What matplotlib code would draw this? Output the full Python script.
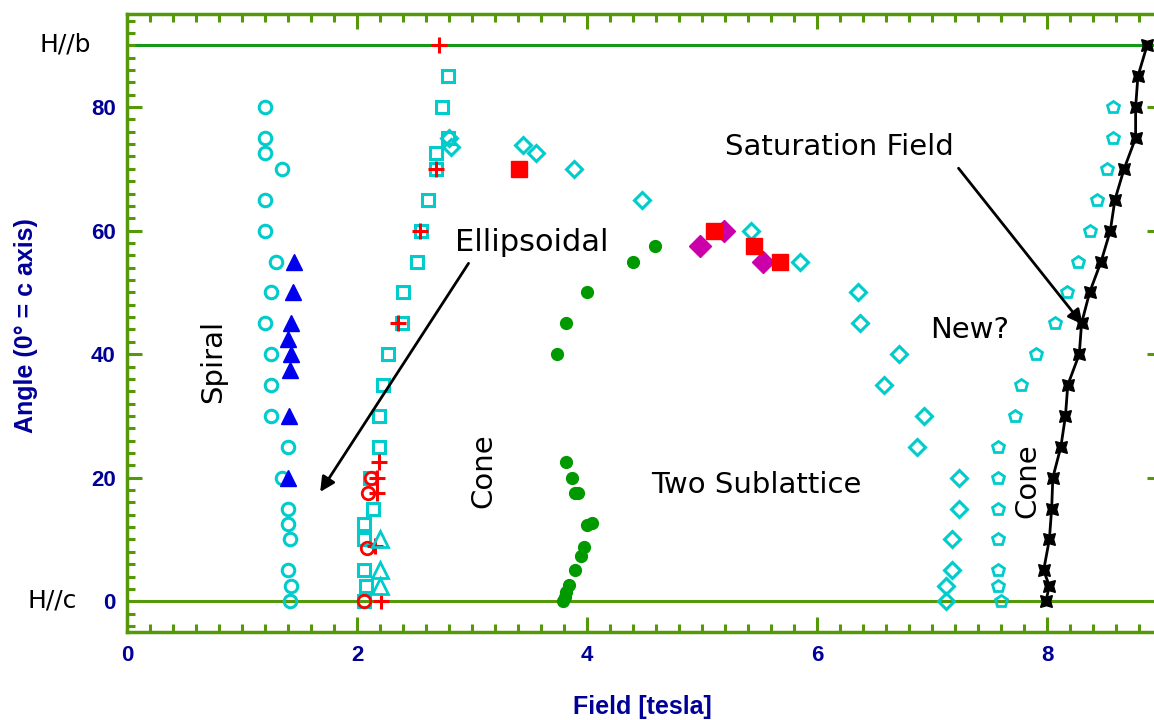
import matplotlib.pyplot as plt
import numpy as np
from matplotlib.ticker import MultipleLocator

# ---- data (field in tesla, angle in degrees) ----
circ_field = [1.2, 1.2, 1.2, 1.35, 1.2, 1.2, 1.3, 1.25, 1.2, 1.25, 1.25, 1.25,
              1.4, 1.35, 1.4, 1.4, 1.42, 1.4, 1.43, 1.42]
circ_angle = [80, 75, 72.5, 70, 65, 60, 55, 50, 45, 40, 35, 30,
              25, 20, 15, 12.5, 10, 5, 2.5, 0]

tri_field = [1.45, 1.44, 1.43, 1.40, 1.43, 1.42, 1.41, 1.40]
tri_angle = [55, 50, 45, 42.5, 40, 37.5, 30, 20]

sq_field = [2.79, 2.74, 2.79, 2.69, 2.69, 2.62, 2.56, 2.52, 2.40, 2.39,
            2.27, 2.23, 2.19, 2.19, 2.11, 2.14, 2.06, 2.06, 2.06, 2.08, 2.06]
sq_angle = [85, 80, 75, 72.5, 70, 65, 60, 55, 50, 45,
            40, 35, 30, 25, 20, 15, 12.5, 10, 5, 2.5, 0]

cross_field = [2.71, 2.69, 2.55, 2.36, 2.19, 2.17, 2.17, 2.16, 2.21]
cross_angle = [90, 70, 60, 45, 22.5, 20, 17.5, 9, 0]

rcirc_field = [2.12, 2.10, 2.09, 2.06]
rcirc_angle = [20, 17.5, 8.7, 0]

otri_field = [2.2, 2.2, 2.2]
otri_angle = [10, 5, 2.5]

dot_field = [3.74, 3.82, 4.0, 4.40, 4.59,
             3.82, 3.87, 3.90, 3.92, 4.0, 4.04, 3.97, 3.95, 3.90, 3.84, 3.82, 3.81, 3.79]
dot_angle = [40, 45, 50, 55, 57.5,
             22.5, 20, 17.6, 17.5, 12.3, 12.6, 8.8, 7.4, 5, 2.6, 1.5, 0.7, 0]

dia_field = [2.80, 2.82, 3.44, 3.56, 3.89, 4.48, 5.43, 5.85, 6.36, 6.37, 6.71,
             6.58, 6.93, 6.87, 7.23, 7.23, 7.17, 7.17, 7.12, 7.12]
dia_angle = [75, 73.5, 73.8, 72.6, 70, 65, 60, 55, 50, 45, 40,
             35, 30, 25, 20, 15, 10, 5, 2.4, 0]

mdia_field = [4.98, 5.19, 5.53]
mdia_angle = [57.5, 60, 55]

rsq_field = [3.41, 5.10, 5.45, 5.68]
rsq_angle = [70, 60, 57.5, 55]

pent_field = [7.60, 7.57, 7.57, 7.57, 7.57, 7.57, 7.57, 7.72, 7.77, 7.90,
              8.07, 8.17, 8.27, 8.37, 8.43, 8.52, 8.57, 8.57]
pent_angle = [0, 2.5, 5, 10, 15, 20, 25, 30, 35, 40,
              45, 50, 55, 60, 65, 70, 75, 80]

sat_field = [7.99, 8.02, 7.97, 8.02, 8.04, 8.05, 8.12, 8.16, 8.18, 8.28,
             8.30, 8.37, 8.47, 8.55, 8.59, 8.67, 8.77, 8.77, 8.79, 8.87]
sat_angle = [0, 2.5, 5, 10, 15, 20, 25, 30, 35, 40,
             45, 50, 55, 60, 65, 70, 75, 80, 85, 90]

x_ticks = [0, 2, 4, 6, 8]
y_ticks = [0, 20, 40, 60, 80]

cyan = '#00cccc'
axis_green = '#55990a'
navy = '#000099'

fig = plt.figure(figsize=(11.54, 7.2), dpi=100)
ax = fig.add_axes([0.110, 0.122, 0.897, 0.858])

ax.axhline(0, color=axis_green, lw=2.2, zorder=1)
ax.axhline(90, color='#16991a', lw=2.2, zorder=1)

ax.plot(circ_field, circ_angle, 'o', ls='none', mfc='none', mec=cyan, ms=9, mew=2.2)
ax.plot(tri_field, tri_angle, '^', ls='none', color='#0000ee', ms=12)
ax.plot(sq_field, sq_angle, 's', ls='none', mfc='none', mec=cyan, ms=8.5, mew=2.2)
ax.plot(rcirc_field, rcirc_angle, 'o', ls='none', mfc='none', mec='#ff0000', ms=9, mew=2)
ax.plot(cross_field, cross_angle, '+', ls='none', color='#ff0000', ms=12, mew=2.2)
ax.plot(otri_field, otri_angle, '^', ls='none', mfc='none', mec=cyan, ms=11, mew=2)
ax.plot(dot_field, dot_angle, 'o', ls='none', color='#009900', ms=8.5)
ax.plot(dia_field, dia_angle, 'D', ls='none', mfc='none', mec=cyan, ms=8.5, mew=2.2)
ax.plot(mdia_field, mdia_angle, 'D', ls='none', color='#cc00aa', ms=11)
ax.plot(rsq_field, rsq_angle, 's', ls='none', color='#ff0000', ms=11)
ax.plot(pent_field, pent_angle, 'p', ls='none', mfc='none', mec=cyan, ms=9, mew=2)
ax.plot(sat_field, sat_angle, '-', color='black', lw=2,
        marker=(4, 1, 45), ms=12, mfc='black', mec='black')

# region labels
txt = dict(fontsize=21, color='black', ha='center', va='center')
ax.text(0.75, 38.9, 'Spiral', rotation=90, **txt)
ax.text(3.52, 58.1, 'Ellipsoidal', fontsize=22, color='black', ha='center', va='center')
ax.text(3.10, 21.2, 'Cone', rotation=90, **txt)
ax.text(5.47, 18.8, 'Two Sublattice', **txt)
ax.text(6.19, 73.5, 'Saturation Field', **txt)
ax.text(7.33, 43.9, 'New?', **txt)
ax.text(7.83, 19.6, 'Cone', rotation=90, **txt)

arw = dict(arrowstyle='-|>', color='black', lw=2, mutation_scale=22, shrinkA=0, shrinkB=0)
ax.annotate('', xy=(1.68, 17.7), xytext=(2.97, 54.7), arrowprops=arw)
ax.annotate('', xy=(8.31, 44.8), xytext=(7.23, 70.1), arrowprops=arw)

ax.set_xlim(0, 9)
ax.set_ylim(-5, 95)
ax.set_xticks(x_ticks)
ax.set_yticks(y_ticks)
ax.xaxis.set_minor_locator(MultipleLocator(0.2))
ax.yaxis.set_minor_locator(MultipleLocator(2))
ax.tick_params(which='both', direction='in', top=True, right=True,
               color=axis_green, width=2.2, labelcolor=navy)
ax.tick_params(which='major', length=11, labelsize=16)
ax.tick_params(axis='x', which='major', pad=9)
ax.tick_params(axis='y', which='major', pad=8)
ax.tick_params(which='minor', length=5.5)
for lab in ax.get_xticklabels() + ax.get_yticklabels():
    lab.set_fontweight('bold')
    lab.set_family(['Liberation Sans', 'DejaVu Sans'])
for sp in ax.spines.values():
    sp.set_color(axis_green)
    sp.set_linewidth(2.5)

lab_font = dict(fontsize=18, color=navy, fontweight='bold',
                family=['Liberation Sans Narrow', 'Liberation Sans', 'DejaVu Sans'])
fig.text(642 / 1154, 1 - 707 / 720, 'Field [tesla]', ha='center', va='center', **lab_font)
fig.text(26 / 1154, 1 - 326 / 720, 'Angle (0° = c axis)', rotation=90,
         ha='center', va='center', **lab_font)

fig.text(65 / 1154, 1 - 44 / 720, 'H//b', ha='center', va='center', fontsize=18, color='black')
fig.text(52 / 1154, 1 - 601 / 720, 'H//c', ha='center', va='center', fontsize=18, color='black')

plt.savefig('out.png', dpi=100)
plt.close()
